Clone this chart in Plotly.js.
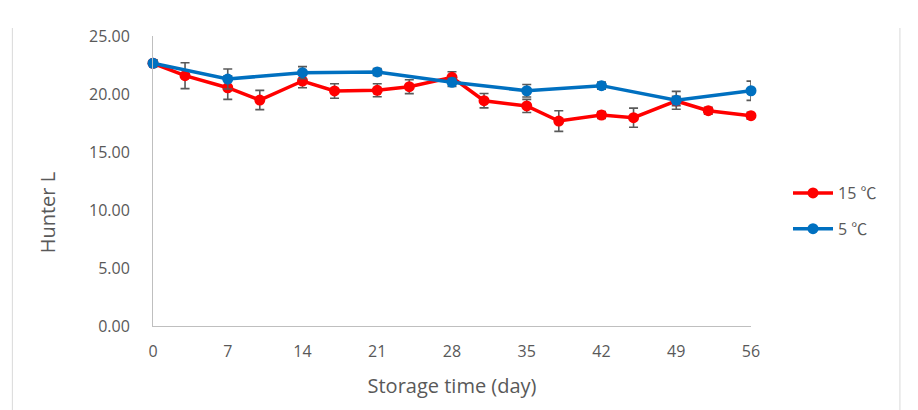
<!DOCTYPE html>
<html>
<head>
<meta charset="utf-8">
<script src="https://cdn.plot.ly/plotly-3.0.1.min.js"></script>
<style>html,body{margin:0;padding:0;background:#fff;}#chart{width:918px;height:410px;}</style>
</head>
<body>
<div id="chart"></div>
<script>
// Storage days
var days15 = [0, 3, 7, 10, 14, 17, 21, 24, 28, 31, 35, 38, 42, 45, 49, 52, 56];
var hunter15 = [22.65, 21.58, 20.54, 19.48, 21.12, 20.26, 20.32, 20.63, 21.44, 19.42, 18.97, 17.67, 18.19, 17.96, 19.40, 18.56, 18.13];
var err15 = [0.3, 1.12, 1.0, 0.83, 0.58, 0.63, 0.56, 0.6, 0.48, 0.62, 0.57, 0.89, 0.3, 0.82, 0.4, 0.3, 0.3];

var days5 = [0, 7, 14, 21, 28, 35, 42, 49, 56];
var hunter5 = [22.65, 21.29, 21.84, 21.90, 21.01, 20.28, 20.72, 19.46, 20.28];
var err5 = [0.3, 0.86, 0.52, 0.3, 0.35, 0.54, 0.3, 0.77, 0.83];

var seriesNames = ['15 \u2103', '5 \u2103'];
var xTicks = [0, 7, 14, 21, 28, 35, 42, 49, 56];
var yTicks = [0, 5, 10, 15, 20, 25];
var xTitle = 'Storage time (day)';
var yTitle = 'Hunter L';

var font = '"Open Sans", "Noto Sans", sans-serif';
var textColor = '#595959';

function trace(x, y, e, name, color, grp) {
  return {
    type: 'scatter', mode: 'lines+markers', x: x, y: y, name: name, legendgroup: grp,
    line: {color: color, width: 3.5},
    marker: {color: color, size: 11},
    error_y: {type: 'data', array: e, visible: true, color: '#595959', thickness: 1.6, width: 4.5},
    cliponaxis: false
  };
}

var data = [
  trace(days15, hunter15, err15, seriesNames[0], '#FF0000', 'a'),
  trace(days5, hunter5, err5, seriesNames[1], '#0070C0', 'b')
];

var layout = {
  width: 918, height: 410,
  margin: {l: 152.7, r: 167.3, t: 36, b: 84, pad: 0},
  paper_bgcolor: '#ffffff', plot_bgcolor: '#ffffff',
  font: {family: font, color: textColor, size: 16},
  showlegend: true,
  legend: {
    x: 788 / 918, xref: 'container', xanchor: 'left',
    y: 1 - 176 / 410, yref: 'container', yanchor: 'top',
    font: {size: 16, color: textColor, family: '"Open Sans", "Noto Sans CJK KR", sans-serif'},
    itemwidth: 40, tracegroupgap: 12,
    bgcolor: 'rgba(0,0,0,0)'
  },
  xaxis: {
    range: [0, 56], tickvals: xTicks, ticktext: xTicks.map(String),
    showgrid: false, zeroline: false, showline: true, linecolor: '#bfbfbf', linewidth: 1,
    ticks: '', ticklabelstandoff: 11,
    tickfont: {size: 16, color: textColor},
    title: {text: xTitle, font: {size: 20, color: textColor}, standoff: 17}
  },
  yaxis: {
    range: [0, 25], tickvals: yTicks, tickformat: '.2f',
    showgrid: false, zeroline: false, showline: true, linecolor: '#bfbfbf', linewidth: 1,
    ticks: '', ticklabelstandoff: 19,
    tickfont: {size: 16, color: textColor}
  },
  annotations: [
    {text: yTitle, textangle: -90, showarrow: false, xref: 'paper', yref: 'paper',
     x: (47 - 152.7) / 598.3, y: (326 - 213) / 290, xanchor: 'center', yanchor: 'middle',
     font: {size: 20, color: textColor}}
  ],
  shapes: [
    {type: 'line', xref: 'paper', yref: 'paper', x0: (12 - 152.7) / 598.3, x1: (12 - 152.7) / 598.3, y0: (326 - 28) / 290, y1: (326 - 410) / 290, line: {color: '#d9d9d9', width: 1}},
    {type: 'line', xref: 'paper', yref: 'paper', x0: (900 - 152.7) / 598.3, x1: (900 - 152.7) / 598.3, y0: (326 - 28) / 290, y1: (326 - 410) / 290, line: {color: '#d9d9d9', width: 1}}
  ]
};

Plotly.newPlot('chart', data, layout, {displayModeBar: false, staticPlot: true});
</script>
</body>
</html>
